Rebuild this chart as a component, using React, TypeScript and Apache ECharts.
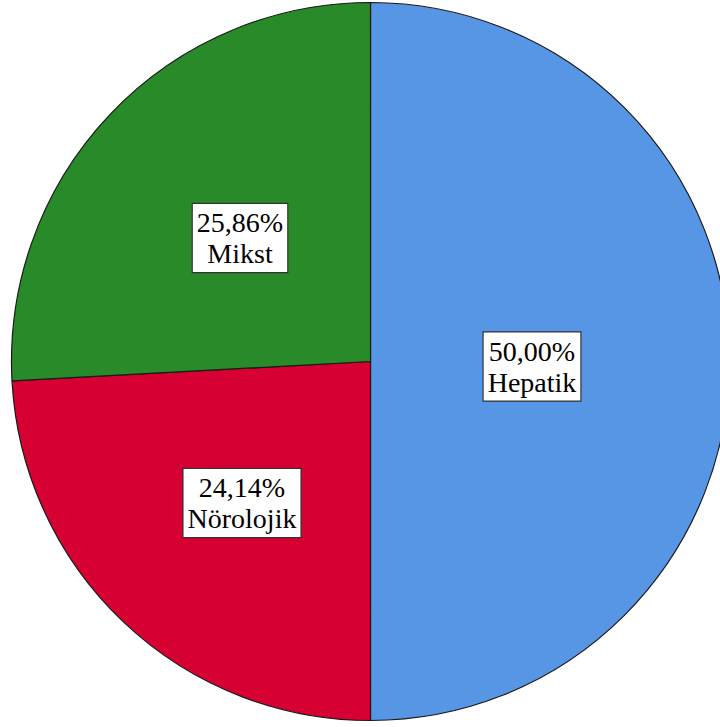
import React, { useEffect, useRef } from "react";
import * as echarts from "echarts";

// Share of cases by type (%)
const categories = ["Hepatik", "Nörolojik", "Mikst"];
const shares = [50.0, 24.14, 25.86];
const sliceColors = ["#5795E5", "#D60032", "#288A28"];

// Small nudges of each label box away from the slice's mid-radius point
const labelNudges: [number, number][] = [
  [-21, 5],
  [-3, 9],
  [2, 2],
];

const SERIF = "Liberation Serif";

const formatPct = (v: number) => v.toFixed(2).replace(".", ",") + "%";

export default function App() {
  const ref = useRef<HTMLDivElement>(null);

  useEffect(() => {
    if (!ref.current) return;
    const chart = echarts.init(ref.current, undefined, { renderer: "svg" });
    chart.setOption({
      animation: false,
      backgroundColor: "#ffffff",
      textStyle: { fontFamily: SERIF },
      series: [
        {
          type: "pie",
          center: [370.5, 361.5],
          radius: 359,
          startAngle: 90,
          clockwise: true,
          avoidLabelOverlap: false,
          itemStyle: { borderColor: "#1a1a1a", borderWidth: 1.2 },
          emphasis: { disabled: true },
          label: {
            show: true,
            position: "inside",
            formatter: (p: any) => `{t|${formatPct(p.value)}}\n{t|${p.name}}`,
            rich: {
              t: {
                fontFamily: SERIF,
                fontSize: 28,
                lineHeight: 31,
                color: "#000",
              },
            },
            fontFamily: SERIF,
            fontSize: 28,
            lineHeight: 31,
            color: "#000",
            backgroundColor: "#ffffff",
            borderColor: "#333",
            borderWidth: 1.2,
            padding: [3, 4, 3, 4],
            align: "center",
          },
          labelLayout: (params: any) => {
            const n = labelNudges[params.dataIndex] || [0, 0];
            return { dx: n[0], dy: n[1] };
          },
          data: categories.map((name, i) => ({
            name,
            value: shares[i],
            itemStyle: { color: sliceColors[i] },
          })),
        },
      ],
    });
    return () => chart.dispose();
  }, []);

  return (
    <div
      ref={ref}
      style={{ position: "fixed", left: 0, top: 0, width: 720, height: 727 }}
    />
  );
}
